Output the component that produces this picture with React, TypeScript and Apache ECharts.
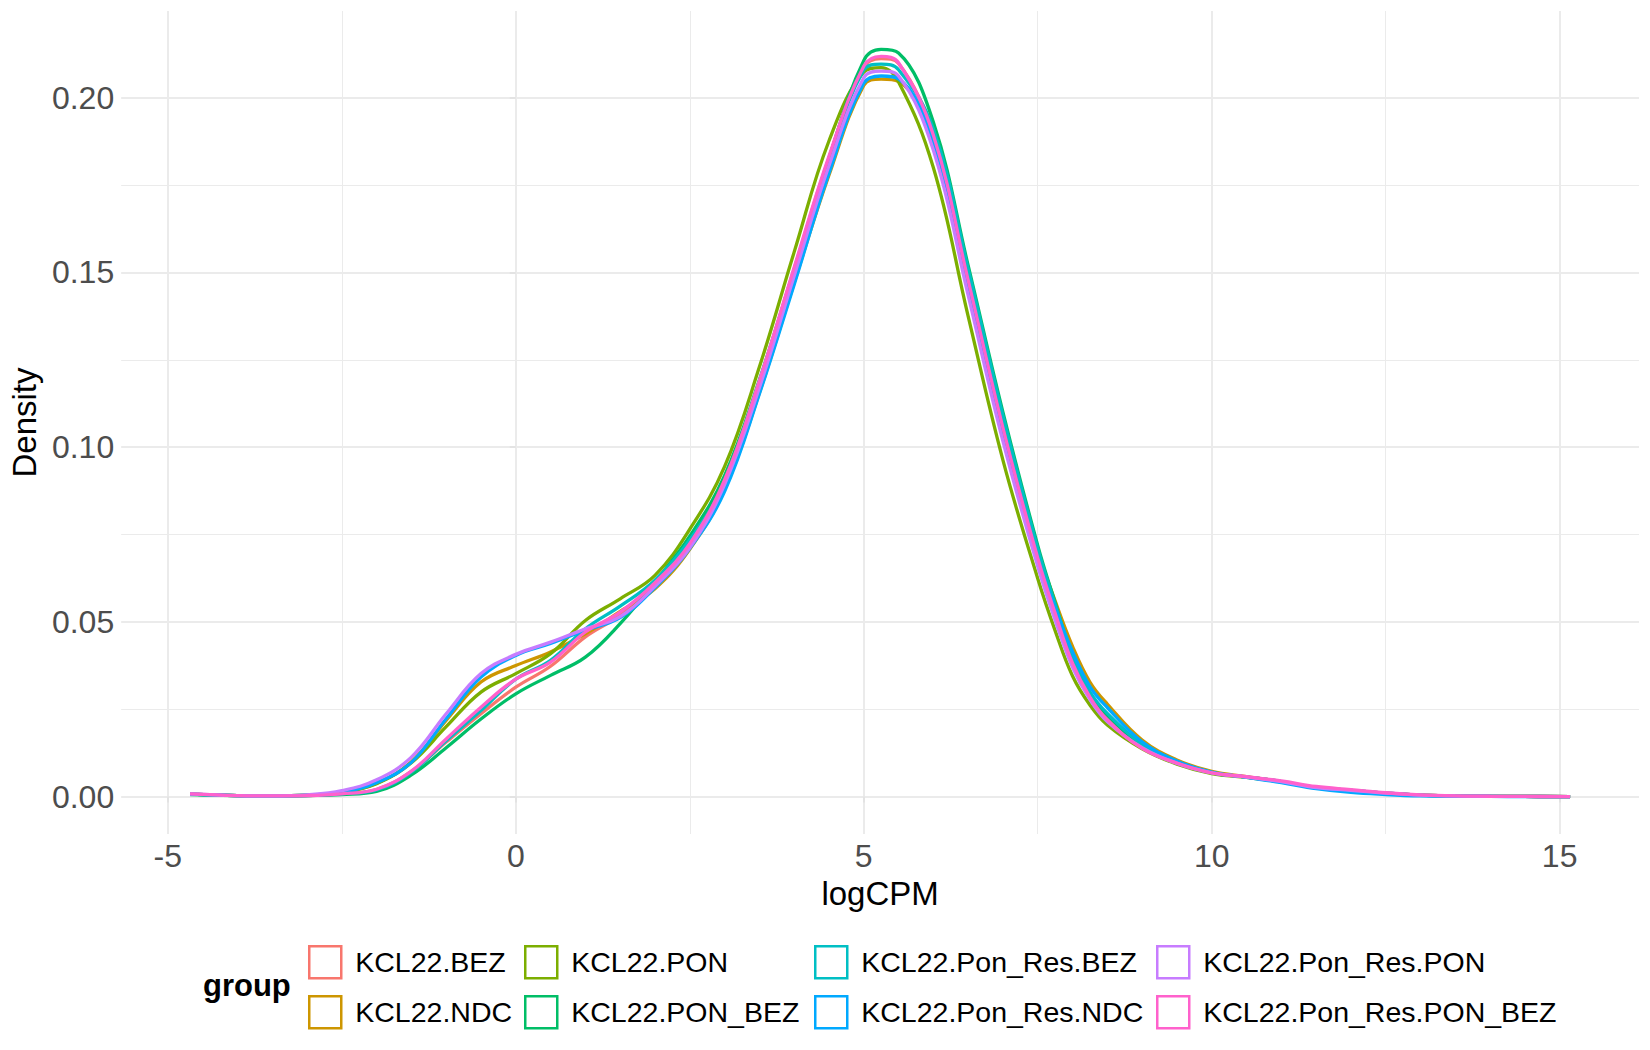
import { useEffect, useRef } from "react";
import * as echarts from "echarts";

const FONT = "'Liberation Sans', Arial, Helvetica, sans-serif";

const logCPM = [
  -4.68, -4, -3.5, -3, -2.5, -2, -1.5, -1, -0.5, 0, 0.5, 1, 1.5, 2, 2.5, 3,
  3.5, 4, 4.5, 5, 5.25, 5.5, 6, 6.5, 7, 7.5, 7.75, 8, 8.25, 8.5, 9, 9.5, 10,
  10.5, 11, 11.5, 12, 12.5, 13, 13.5, 14, 14.5, 15.15,
];

const groups = [
  "KCL22.BEZ",
  "KCL22.NDC",
  "KCL22.PON",
  "KCL22.PON_BEZ",
  "KCL22.Pon_Res.BEZ",
  "KCL22.Pon_Res.NDC",
  "KCL22.Pon_Res.PON",
  "KCL22.Pon_Res.PON_BEZ",
];

const colors = [
  "#F8766D",
  "#CD9600",
  "#7CAE00",
  "#00BE67",
  "#00BFC4",
  "#00A9FF",
  "#C77CFF",
  "#FF61CC",
];

const bez = [
  0.0007, 0.0003, 0.0002, 0.0003, 0.0008, 0.002, 0.0072, 0.0156, 0.0237,
  0.0313, 0.0373, 0.0457, 0.052, 0.0615, 0.074, 0.0905, 0.1185, 0.151, 0.1828,
  0.2088, 0.2112, 0.2098, 0.189, 0.148, 0.106, 0.069, 0.053, 0.0388, 0.029,
  0.0225, 0.0142, 0.0097, 0.0068, 0.0056, 0.0043, 0.0026, 0.0018, 0.001,
  0.0004, 0.0002, 0.0001, 0.00005, 0,
];
const ndc = [
  0.0007, 0.0003, 0.0002, 0.0004, 0.0012, 0.0038, 0.01, 0.0218, 0.0328,
  0.0375, 0.0414, 0.0466, 0.053, 0.0595, 0.0708, 0.0878, 0.1155, 0.147, 0.1778,
  0.2035, 0.2053, 0.2046, 0.188, 0.148, 0.107, 0.0705, 0.056, 0.043, 0.0328,
  0.0265, 0.0162, 0.0105, 0.0072, 0.0057, 0.0043, 0.0025, 0.0016, 0.0009,
  0.0004, 0.0002, 0.0001, 0.00005, 0,
];
const pon = [
  0.0007, 0.0003, 0.0002, 0.0004, 0.0012, 0.0037, 0.0097, 0.02, 0.0299,
  0.0352, 0.0409, 0.0504, 0.0566, 0.0633, 0.0765, 0.0944, 0.1229, 0.1558,
  0.1876, 0.2073, 0.2086, 0.2045, 0.18, 0.1375, 0.0963, 0.0624, 0.0475, 0.0345,
  0.0262, 0.0205, 0.0137, 0.0093, 0.0066, 0.0055, 0.0042, 0.0025, 0.0017,
  0.0009, 0.0004, 0.0002, 0.0001, 0.00005, 0,
];
const ponBez = [
  0.0006, 0.0003, 0.0002, 0.0003, 0.0006, 0.0015, 0.0062, 0.014, 0.0222,
  0.0294, 0.0347, 0.0399, 0.0495, 0.0614, 0.0745, 0.0918, 0.1192, 0.1508,
  0.1826, 0.2106, 0.2138, 0.2128, 0.193, 0.152, 0.11, 0.0719, 0.0555, 0.04,
  0.0295, 0.0232, 0.0147, 0.0098, 0.0068, 0.0056, 0.0043, 0.0026, 0.0018,
  0.001, 0.0004, 0.0002, 0.0001, 0.00005, 0,
];
const ponResBez = [
  0.0007, 0.0003, 0.0002, 0.0003, 0.0008, 0.0019, 0.007, 0.016, 0.0246,
  0.0336, 0.039, 0.048, 0.0545, 0.0619, 0.0735, 0.09, 0.1188, 0.1503, 0.1821,
  0.2079, 0.2096, 0.208, 0.191, 0.151, 0.109, 0.071, 0.055, 0.0405, 0.03,
  0.0238, 0.015, 0.01, 0.0069, 0.0056, 0.0043, 0.0026, 0.0018, 0.001, 0.0004,
  0.0002, 0.0001, 0.00005, 0,
];
const ponResNdc = [
  0.0007, 0.0003, 0.0002, 0.0004, 0.0013, 0.004, 0.0098, 0.0223, 0.0342,
  0.0404, 0.0438, 0.0476, 0.0512, 0.0598, 0.071, 0.0873, 0.1152, 0.1465,
  0.1783, 0.2041, 0.2062, 0.2054, 0.1875, 0.146, 0.104, 0.068, 0.054, 0.0415,
  0.0315, 0.0255, 0.0157, 0.0102, 0.007, 0.0055, 0.004, 0.0023, 0.0012,
  0.0006, 0.0002, 0.0001, 0.00005, 0, 0,
];
const ponResPon = [
  0.0008, 0.0003, 0.0002, 0.0005, 0.0017, 0.0048, 0.0113, 0.0237, 0.0352,
  0.0407, 0.0442, 0.048, 0.0515, 0.0602, 0.0712, 0.0893, 0.117, 0.149, 0.1805,
  0.2057, 0.2076, 0.2062, 0.185, 0.1435, 0.1017, 0.0659, 0.0505, 0.037, 0.0278,
  0.0215, 0.014, 0.0095, 0.0068, 0.0056, 0.0043, 0.0026, 0.0018, 0.001,
  0.0004, 0.0002, 0.0001, 0.00005, 0,
];
const ponResPonBez = [
  0.0008, 0.0003, 0.0002, 0.0003, 0.0008, 0.0021, 0.0073, 0.0165, 0.0256,
  0.0336, 0.0385, 0.0471, 0.0528, 0.0612, 0.0724, 0.0906, 0.119, 0.1514,
  0.1832, 0.209, 0.2118, 0.21, 0.1893, 0.1478, 0.1055, 0.0683, 0.0525, 0.0382,
  0.0285, 0.022, 0.0138, 0.0096, 0.0068, 0.0057, 0.0045, 0.0029, 0.002,
  0.0011, 0.0005, 0.0002, 0.0001, 0.00005, 0,
];

const densities = [
  bez,
  ndc,
  pon,
  ponBez,
  ponResBez,
  ponResNdc,
  ponResPon,
  ponResPonBez,
];

const xTicks = [-5, 0, 5, 10, 15];
const xMinorBreaks = [-2.5, 2.5, 7.5, 12.5];
const yTicks = [0, 0.05, 0.1, 0.15, 0.2];
const yMinorBreaks = [0.025, 0.075, 0.125, 0.175];

// ggplot fills the legend column by column, two rows
const legendColumns = [
  [0, 1],
  [2, 3],
  [4, 5],
  [6, 7],
];
const legendLeft = [308, 524, 814, 1156];

export default function App() {
  const chartRef = useRef(null);

  useEffect(() => {
    const chart = echarts.init(chartRef.current, null, { renderer: "svg" });

    const lineSeries = groups.map((name, i) => ({
      name,
      type: "line",
      data: logCPM.map((x, j) => [x, densities[i][j]]),
      showSymbol: false,
      symbol: "none",
      smooth: 0.4,
      z: 3 + i,
      lineStyle: { width: 3.3, color: colors[i] },
      itemStyle: { color: colors[i] },
      emphasis: { disabled: true },
    }));

    const options = {
      animation: false,
      backgroundColor: "#ffffff",
      textStyle: { fontFamily: FONT },
      grid: { left: 120, right: 11, top: 11, bottom: 216 },
      xAxis: {
        type: "value",
        min: -5.67,
        max: 16.14,
        name: "logCPM",
        nameLocation: "middle",
        nameGap: 32,
        nameTextStyle: { fontSize: 33, color: "#000000", fontFamily: FONT },
        axisLine: { show: false },
        axisTick: {
          show: true,
          length: 6,
          customValues: xTicks,
          lineStyle: { color: "#E3E3E3", width: 2 },
        },
        axisLabel: {
          customValues: xTicks,
          fontSize: 32,
          color: "#4D4D4D",
          margin: 6,
          fontFamily: FONT,
          formatter: (v: number) => String(v),
        },
        splitLine: { show: true, lineStyle: { color: "#EBEBEB", width: 2 } },
      },
      yAxis: {
        type: "value",
        min: -0.0107,
        max: 0.2248,
        name: "Density",
        nameLocation: "middle",
        nameGap: 78,
        nameRotate: 90,
        nameTextStyle: { fontSize: 33, color: "#000000", fontFamily: FONT },
        axisLine: { show: false },
        axisTick: {
          show: true,
          length: 6,
          customValues: yTicks,
          lineStyle: { color: "#E3E3E3", width: 2 },
        },
        axisLabel: {
          customValues: yTicks,
          fontSize: 32,
          color: "#4D4D4D",
          margin: 7,
          fontFamily: FONT,
          formatter: (v: number) => v.toFixed(2),
        },
        splitLine: { show: true, lineStyle: { color: "#EBEBEB", width: 2 } },
      },
      legend: legendColumns.map((col, c) => ({
        orient: "vertical",
        left: legendLeft[c],
        top: 945,
        padding: 0,
        itemGap: 15.5,
        itemWidth: 32,
        itemHeight: 32,
        icon: "rect",
        selectedMode: false,
        textStyle: {
          fontSize: 28.5,
          color: "#000000",
          fontFamily: FONT,
          padding: [0, 0, 0, 9],
        },
        data: col.map((i) => ({
          name: groups[i],
          icon: "rect",
          itemStyle: {
            color: "transparent",
            borderColor: colors[i],
            borderWidth: 2.5,
          },
        })),
      })),
      graphic: [
        {
          type: "text",
          x: 203,
          y: 985,
          style: {
            text: "group",
            font: `bold 31px ${FONT}`,
            fill: "#000000",
            verticalAlign: "middle",
          },
        },
      ],
      series: [
        {
          type: "line",
          data: [],
          silent: true,
          z: 1,
          markLine: {
            silent: true,
            symbol: "none",
            precision: 4,
            z: 1,
            label: { show: false },
            lineStyle: { color: "#EBEBEB", width: 1, type: "solid" },
            data: [
              ...xMinorBreaks.map((v) => ({ xAxis: v })),
              ...yMinorBreaks.map((v) => ({ yAxis: v })),
            ],
          },
        },
        ...lineSeries,
      ],
    };

    chart.setOption(options);

    return () => {
      chart.dispose();
    };
  }, []);

  return (
    <div
      ref={chartRef}
      style={{ position: "fixed", left: 0, top: 0, width: 1650, height: 1050 }}
    />
  );
}
